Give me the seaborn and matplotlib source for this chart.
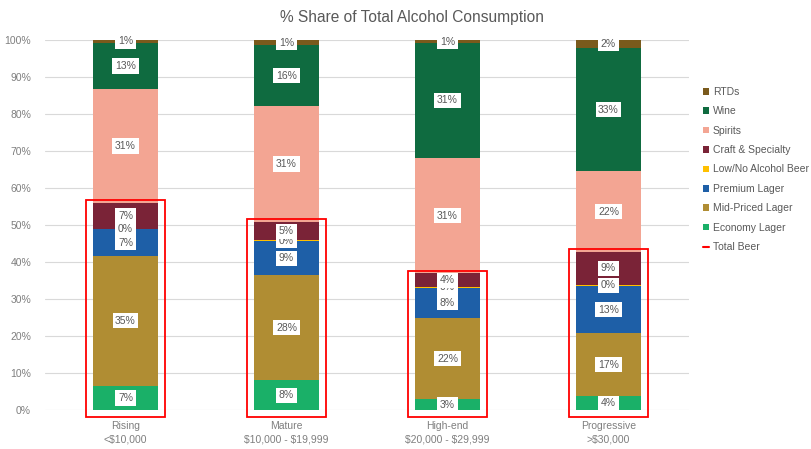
import math
import matplotlib
matplotlib.use("Agg")
import matplotlib.pyplot as plt
from matplotlib.patches import Patch, Rectangle
from matplotlib.lines import Line2D
from matplotlib.ticker import FuncFormatter
import numpy as np
import pandas as pd
import seaborn as sns

# Income segments
categories = ["Rising\n<$10,000", "Mature\n$10,000 - $19,999",
              "High-end\n$20,000 - $29,999", "Progressive\n>$30,000"]

# Share of total alcohol consumption (%), bottom to top of each stack
economy_lager = [6.5, 8.0, 2.9, 3.7]
mid_priced_lager = [35.2, 28.4, 22.0, 17.1]
premium_lager = [7.1, 9.2, 8.2, 12.7]
low_no_alcohol = [0.2, 0.3, 0.2, 0.4]
craft_specialty = [7.0, 4.9, 3.6, 8.8]
spirits = [30.7, 31.4, 31.3, 21.8]
wine = [12.5, 16.4, 30.9, 33.4]
rtds = [0.8, 1.4, 0.9, 2.1]

series_names = ["Economy Lager", "Mid-Priced Lager", "Premium Lager",
                "Low/No Alcohol Beer", "Craft & Specialty", "Spirits",
                "Wine", "RTDs"]
series_values = [economy_lager, mid_priced_lager, premium_lager,
                 low_no_alcohol, craft_specialty, spirits, wine, rtds]
series_colors = ["#1AB068", "#B08D33", "#1E5FA7", "#FFC000",
                 "#7A2337", "#F3A593", "#0F6B40", "#7A5A1C"]
beer_series = 5  # first five series are beer

y_ticks = [0, 10, 20, 30, 40, 50, 60, 70, 80, 90, 100]

df = pd.DataFrame(dict(zip(series_names, series_values)), index=categories)
cum = df.cumsum(axis=1)
bottoms = cum.shift(axis=1).fillna(0)

sns.set_theme(style="white")
plt.rcParams["font.family"] = ["Liberation Sans", "DejaVu Sans"]

fig = plt.figure(figsize=(8.12, 4.49), dpi=100)
ax = fig.add_axes([45 / 812, 39 / 449, 644 / 812, 370 / 449])

# Stacked bars: draw cumulative totals from the top layer down
for name, color in reversed(list(zip(series_names, series_colors))):
    layer = pd.DataFrame({"segment": categories, "value": cum[name].values})
    sns.barplot(data=layer, x="segment", y="value", order=categories,
                color=color, saturation=1, width=0.4, linewidth=0,
                ax=ax, zorder=2)

# Segment value labels
label_kw = dict(ha="center", va="center", fontsize=7.5, color="#595959",
                bbox=dict(boxstyle="square,pad=0.25", fc="white", ec="none"))
order = [3] + [k for k in range(len(series_names)) if k != 3]
for k in order:
    name = series_names[k]
    for i, cat in enumerate(categories):
        v = df.loc[cat, name]
        y = bottoms.loc[cat, name] + v / 2
        ax.text(i, y, f"{math.floor(v + 0.5)}%", zorder=4 + k, **label_kw)

# Total Beer outline boxes
beer_total = cum[series_names[beer_series - 1]].values
for i, tot in enumerate(beer_total):
    ax.add_patch(Rectangle((i - 0.243, -1.8), 0.486, tot + 2.6,
                           fill=False, ec="#FF0000", lw=1.3,
                           zorder=10, clip_on=False))

ax.set_xlim(-0.5, 3.5)
ax.set_ylim(0, 100)
ax.set_yticks(y_ticks)
ax.yaxis.set_major_formatter(FuncFormatter(lambda v, p: f"{v:.0f}%"))
ax.set_xticks(range(len(categories)))
ax.set_xticklabels(categories, linespacing=1.45)
for lbl in ax.get_xticklabels():
    lbl.set_parse_math(False)
ax.grid(axis="y", color="#D9D9D9", lw=0.8, zorder=0)
ax.set_axisbelow(True)
for s in ax.spines.values():
    s.set_visible(False)
ax.tick_params(axis="both", length=0, labelsize=7.5, colors="#7F7F7F")
ax.tick_params(axis="y", pad=10)
ax.tick_params(axis="x", pad=8)
ax.set_xlabel("")
ax.set_ylabel("")

fig.text(0.508, 0.962, "% Share of Total Alcohol Consumption",
         ha="center", va="center", fontsize=11.2, color="#595959")

handles = [Patch(facecolor=c, edgecolor="none", label=n)
           for n, c in reversed(list(zip(series_names, series_colors)))]
handles.append(Line2D([], [], color="#FF0000", lw=1.5, label="Total Beer"))
fig.legend(handles=handles, loc="upper left",
           bbox_to_anchor=(703 / 812, 1 - 87 / 449), frameon=False,
           fontsize=7.5, handlelength=0.6, handleheight=0.6,
           handletextpad=0.35, labelspacing=0.9, borderpad=0,
           borderaxespad=0, labelcolor="#595959")

fig.savefig("out.png", dpi=100)
